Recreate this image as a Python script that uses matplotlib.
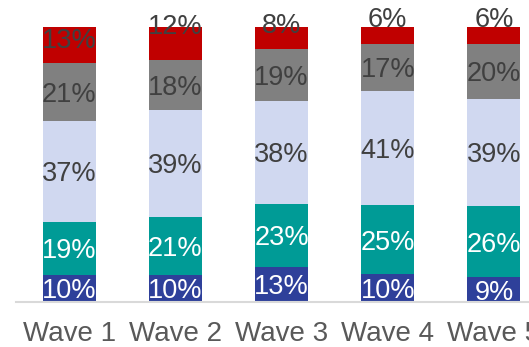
import numpy as np
import matplotlib.pyplot as plt

plt.rcParams['font.family'] = ['Liberation Sans', 'DejaVu Sans']

waves = ['Wave 1', 'Wave 2', 'Wave 3', 'Wave 4', 'Wave 5']
# segments from bottom to top
seg_blue = [10, 10, 13, 10, 9]
seg_teal = [19, 21, 23, 25, 26]
seg_light = [37, 39, 38, 41, 39]
seg_gray = [21, 18, 19, 17, 20]
seg_red = [13, 12, 8, 6, 6]

segments = [seg_blue, seg_teal, seg_light, seg_gray, seg_red]
colors = ['#2E409A', '#009B96', '#D0D8F0', '#808080', '#C00000']
text_colors = ['white', 'white', '#404040', '#404040', '#404040']
# top labels sit a bit above the segment centre (pixels)
top_shift = [7, 20, 15, 18, 18]

fig = plt.figure(figsize=(5.29, 3.47), dpi=100)
ax = fig.add_axes([16 / 529, 45 / 347, 531 / 529, 275 / 347])

x = np.arange(len(waves))
data = np.array(segments, dtype=float)
totals = data.sum(axis=0)
shares = data / totals * 100   # every bar fills to 100%
bottom = np.zeros(len(waves))

for i, (vals, col) in enumerate(zip(shares, colors)):
    ax.bar(x, vals, bottom=bottom, width=0.5, color=col, edgecolor='none')
    for j in range(len(waves)):
        yc = bottom[j] + vals[j] / 2
        shift = top_shift[j] * 0.72 if i == len(segments) - 1 else 0
        ax.annotate(f'{segments[i][j]}%', (x[j], yc), xytext=(0, shift),
                    textcoords='offset points', ha='center', va='center_baseline',
                    fontsize=19.5, color=text_colors[i], annotation_clip=False)
    bottom += vals

ax.set_xlim(-0.5, 4.5)
ax.set_ylim(0, 100)
ax.set_xticks(x)
ax.set_xticklabels(waves, fontsize=20, color='#595959')
ax.tick_params(axis='x', length=0, pad=14)
ax.set_yticks([])
for s in ['top', 'right', 'left']:
    ax.spines[s].set_visible(False)
ax.spines['bottom'].set_color('#D9D9D9')
ax.spines['bottom'].set_linewidth(1.5)

fig.savefig('out.png', dpi=100)
